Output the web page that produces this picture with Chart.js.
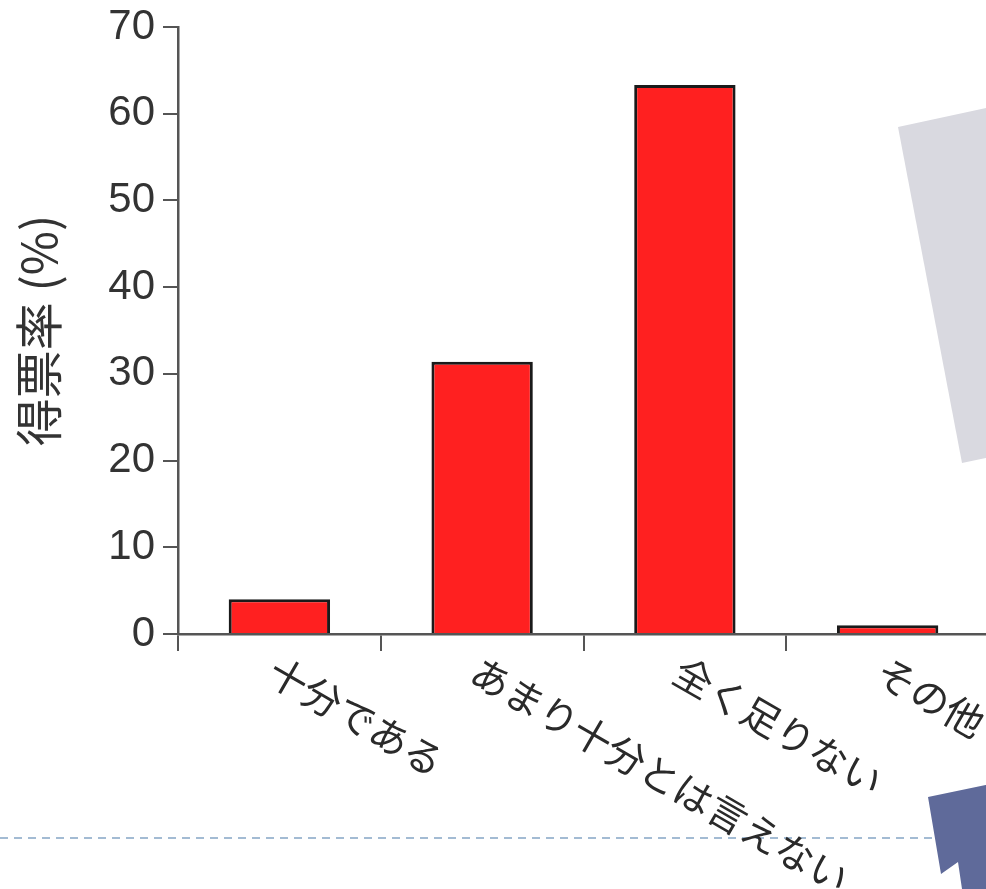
<!DOCTYPE html>
<html>
<head>
<meta charset="utf-8">
<script src="https://cdn.jsdelivr.net/npm/chart.js@4/dist/chart.umd.min.js"></script>
<style>
  html, body { margin: 0; padding: 0; background: #fff; overflow: hidden; }
  #wrap { width: 986px; height: 889px; overflow: hidden; }
</style>
</head>
<body>
<div id="wrap"><canvas id="canvas" width="1000" height="889"></canvas></div>
<script>
// data
var categories = ['十分である', 'あまり十分とは言えない', '全く足りない', 'その他'];
var voteRate = [4.0, 31.4, 63.3, 1.0];
var yTicks = [0, 10, 20, 30, 40, 50, 60, 70];
var yTitle = '得票率 (%)';

var axisColor = '#555555';
var textColor = '#333333';

// x labels rotated clockwise, starting under each bar
var slantLabels = {
  id: 'slantLabels',
  afterDraw: function(chart){
    var ctx = chart.ctx;
    var xs = chart.scales.x;
    ctx.save();
    ctx.font = '39px "Noto Sans CJK JP"';
    ctx.fillStyle = '#2a2a2a';
    ctx.textAlign = 'left';
    ctx.textBaseline = 'top';
    categories.forEach(function(lab, i){
      var x = xs.getPixelForValue(i);
      ctx.save();
      ctx.translate(x + 2, xs.top + 17);
      ctx.rotate(30 * Math.PI / 180);
      ctx.fillText(lab, 0, 0);
      ctx.restore();
    });
    ctx.restore();
  }
};

// slide decoration around the chart
var slideDeco = {
  id: 'slideDeco',
  beforeDraw: function(chart){
    var ctx = chart.ctx;
    ctx.save();
    ctx.fillStyle = '#d9d9e0';
    ctx.beginPath();
    ctx.moveTo(898, 127);
    ctx.lineTo(1000, 105);
    ctx.lineTo(1000, 455);
    ctx.lineTo(962, 463);
    ctx.closePath();
    ctx.fill();

    ctx.strokeStyle = '#a3bbd3';
    ctx.lineWidth = 2;
    ctx.setLineDash([8, 6]);
    ctx.beginPath();
    ctx.moveTo(0, 838);
    ctx.lineTo(935, 838);
    ctx.stroke();
    ctx.setLineDash([]);

    ctx.fillStyle = '#5f6a9a';
    ctx.beginPath();
    ctx.moveTo(928, 797);
    ctx.lineTo(1000, 782);
    ctx.lineTo(1000, 889);
    ctx.lineTo(962, 889);
    ctx.lineTo(958, 862);
    ctx.lineTo(941, 874);
    ctx.closePath();
    ctx.fill();
    ctx.restore();
  }
};

new Chart(document.getElementById('canvas'), {
  type: 'bar',
  data: {
    labels: categories,
    datasets: [{
      data: voteRate,
      backgroundColor: '#ff2020',
      borderColor: '#1a1a1a',
      borderWidth: 3,
      barPercentage: 0.5,
      categoryPercentage: 1.0
    }]
  },
  options: {
    responsive: false,
    animation: false,
    layout: { padding: { top: 27, right: 11, left: 0, bottom: 0 } },
    plugins: { legend: { display: false }, tooltip: { enabled: false } },
    scales: {
      x: {
        offset: true,
        grid: { display: true, drawOnChartArea: false, drawTicks: true, tickLength: 17, color: axisColor, lineWidth: 2 },
        border: { display: true, color: axisColor, width: 2.5 },
        ticks: { display: false },
        afterFit: function(s){ s.height = 255; }
      },
      y: {
        min: 0,
        max: 70,
        afterBuildTicks: function(s){ s.ticks = yTicks.map(function(v){ return { value: v }; }); },
        ticks: { color: textColor, padding: 8, font: { family: '"Liberation Sans", "Noto Sans CJK JP"', size: 42, lineHeight: 0.9 } },
        grid: { display: true, drawOnChartArea: false, drawTicks: true, tickLength: 15, color: axisColor, lineWidth: 2 },
        border: { display: true, color: axisColor, width: 2.5 },
        title: {
          display: true,
          text: yTitle,
          color: textColor,
          padding: { top: 10, bottom: 0 },
          font: { family: '"Noto Sans CJK JP"', size: 48, weight: 'normal' }
        },
        afterFit: function(s){ s.width = 178; }
      }
    }
  },
  plugins: [slideDeco, slantLabels]
});
</script>
</body>
</html>
